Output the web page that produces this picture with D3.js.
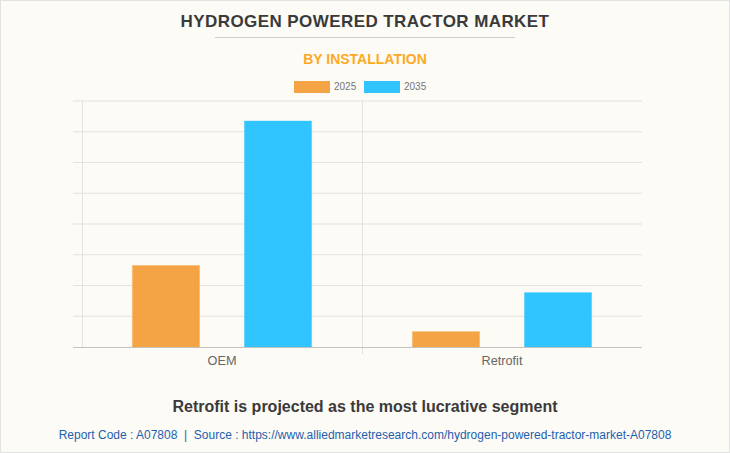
<!DOCTYPE html>
<html>
<head>
<meta charset="utf-8">
<script src="https://cdnjs.cloudflare.com/ajax/libs/d3/7.8.5/d3.min.js"></script>
<style>
  html, body { margin: 0; padding: 0; background: #fcfbf6; }
  svg { display: block; }
  text { font-family: "Liberation Sans", Arial, sans-serif; }
</style>
</head>
<body>
<div id="chart"></div>
<script>
var categories = ["OEM", "Retrofit"]
var years = ["2025", "2035"]
var values2025 = [2.65, 0.5]
var values2035 = [7.35, 1.77]
var colors = ["#f4a444", "#30c5ff"]
var yTicks = [0, 1, 2, 3, 4, 5, 6, 7, 8]

var width = 730
var height = 453
var left = 82
var right = 642
var top_ = 101
var bottom = 347

var svg = d3.select("#chart")
  .append("svg")
  .attr("width", width)
  .attr("height", height)

svg.append("rect")
  .attr("x", 0.5)
  .attr("y", 0.5)
  .attr("width", width - 1)
  .attr("height", height - 1)
  .attr("fill", "#fcfbf6")
  .attr("stroke", "#e2e2e2")

var x0 = d3.scaleBand()
  .domain(categories)
  .range([left, right])

var x1 = d3.scaleBand()
  .domain(years)
  .range([0, x0.bandwidth()])
  .paddingInner(0.4)
  .paddingOuter(0.45)

var y = d3.scaleLinear()
  .domain([0, 8])
  .range([bottom, top_])

// grid
svg.append("g")
  .selectAll("line")
  .data(yTicks.slice(1))
  .enter()
  .append("line")
  .attr("x1", 73)
  .attr("x2", right)
  .attr("y1", function(d) { return y(d) })
  .attr("y2", function(d) { return y(d) })
  .attr("stroke", "#e3e2dd")

// left edge stops at the axis, the category divider runs a little below it
svg.append("line")
  .attr("x1", left + 0.5)
  .attr("x2", left + 0.5)
  .attr("y1", top_)
  .attr("y2", bottom)
  .attr("stroke", "#e3e2dd")

svg.append("line")
  .attr("x1", x0("Retrofit") + 0.5)
  .attr("x2", x0("Retrofit") + 0.5)
  .attr("y1", top_)
  .attr("y2", 354)
  .attr("stroke", "#e3e2dd")

// bars
var series = [values2025, values2035]
var groups = svg.append("g")
  .selectAll("g")
  .data(series)
  .enter()
  .append("g")
  .attr("fill", function(d, i) { return colors[i] })
  .attr("stroke", function(d, i) { return colors[i] })
  .attr("stroke-opacity", 0.3)

groups.each(function(vals, s) {
  d3.select(this).selectAll("rect")
    .data(vals)
    .enter()
    .append("rect")
    .attr("x", function(d, i) { return x0(categories[i]) + x1(years[s]) })
    .attr("y", function(d) { return y(d) })
    .attr("width", x1.bandwidth())
    .attr("height", function(d) { return y(0) - y(d) })
})

// baseline
svg.append("line")
  .attr("x1", 73)
  .attr("x2", right)
  .attr("y1", bottom + 0.5)
  .attr("y2", bottom + 0.5)
  .attr("stroke", "#c4c3be")

// category labels
svg.append("g")
  .selectAll("text")
  .data(categories)
  .enter()
  .append("text")
  .text(function(d) { return d })
  .attr("x", function(d) { return x0(d) + x0.bandwidth() / 2 })
  .attr("y", 365)
  .attr("text-anchor", "middle")
  .attr("font-size", 12.7)
  .attr("fill", "#666")

// titles
svg.append("text")
  .text("HYDROGEN POWERED TRACTOR MARKET")
  .attr("x", 365)
  .attr("y", 27)
  .attr("text-anchor", "middle")
  .attr("font-size", 17)
  .attr("font-weight", "bold")
  .attr("letter-spacing", 0.42)
  .attr("fill", "#3a3a3a")

svg.append("line")
  .attr("x1", 215)
  .attr("x2", 515)
  .attr("y1", 37.5)
  .attr("y2", 37.5)
  .attr("stroke", "#cfcfcb")

svg.append("text")
  .text("BY INSTALLATION")
  .attr("x", 365)
  .attr("y", 64)
  .attr("text-anchor", "middle")
  .attr("font-size", 14)
  .attr("font-weight", "bold")
  .attr("fill", "#fcaa25")

// legend
var legendX = [294, 364]
var legend = svg.append("g")
  .selectAll("g")
  .data(years)
  .enter()
  .append("g")
  .attr("transform", function(d, i) { return "translate(" + legendX[i] + ",81)" })

legend.append("rect")
  .attr("width", 36)
  .attr("height", 12)
  .attr("fill", function(d, i) { return colors[i] })

legend.append("text")
  .text(function(d) { return d })
  .attr("x", 40)
  .attr("y", 9)
  .attr("font-size", 10)
  .attr("fill", "#777")

// footer
svg.append("text")
  .text("Retrofit is projected as the most lucrative segment")
  .attr("x", 365)
  .attr("y", 412)
  .attr("text-anchor", "middle")
  .attr("font-size", 16)
  .attr("font-weight", "bold")
  .attr("fill", "#3a3a3a")

svg.append("text")
  .text("Report Code : A07808  |  Source : https://www.alliedmarketresearch.com/hydrogen-powered-tractor-market-A07808")
  .attr("x", 365)
  .attr("y", 439)
  .attr("text-anchor", "middle")
  .attr("font-size", 12)
  .style("white-space", "pre")
  .attr("fill", "#1f5fae")
</script>
</body>
</html>
